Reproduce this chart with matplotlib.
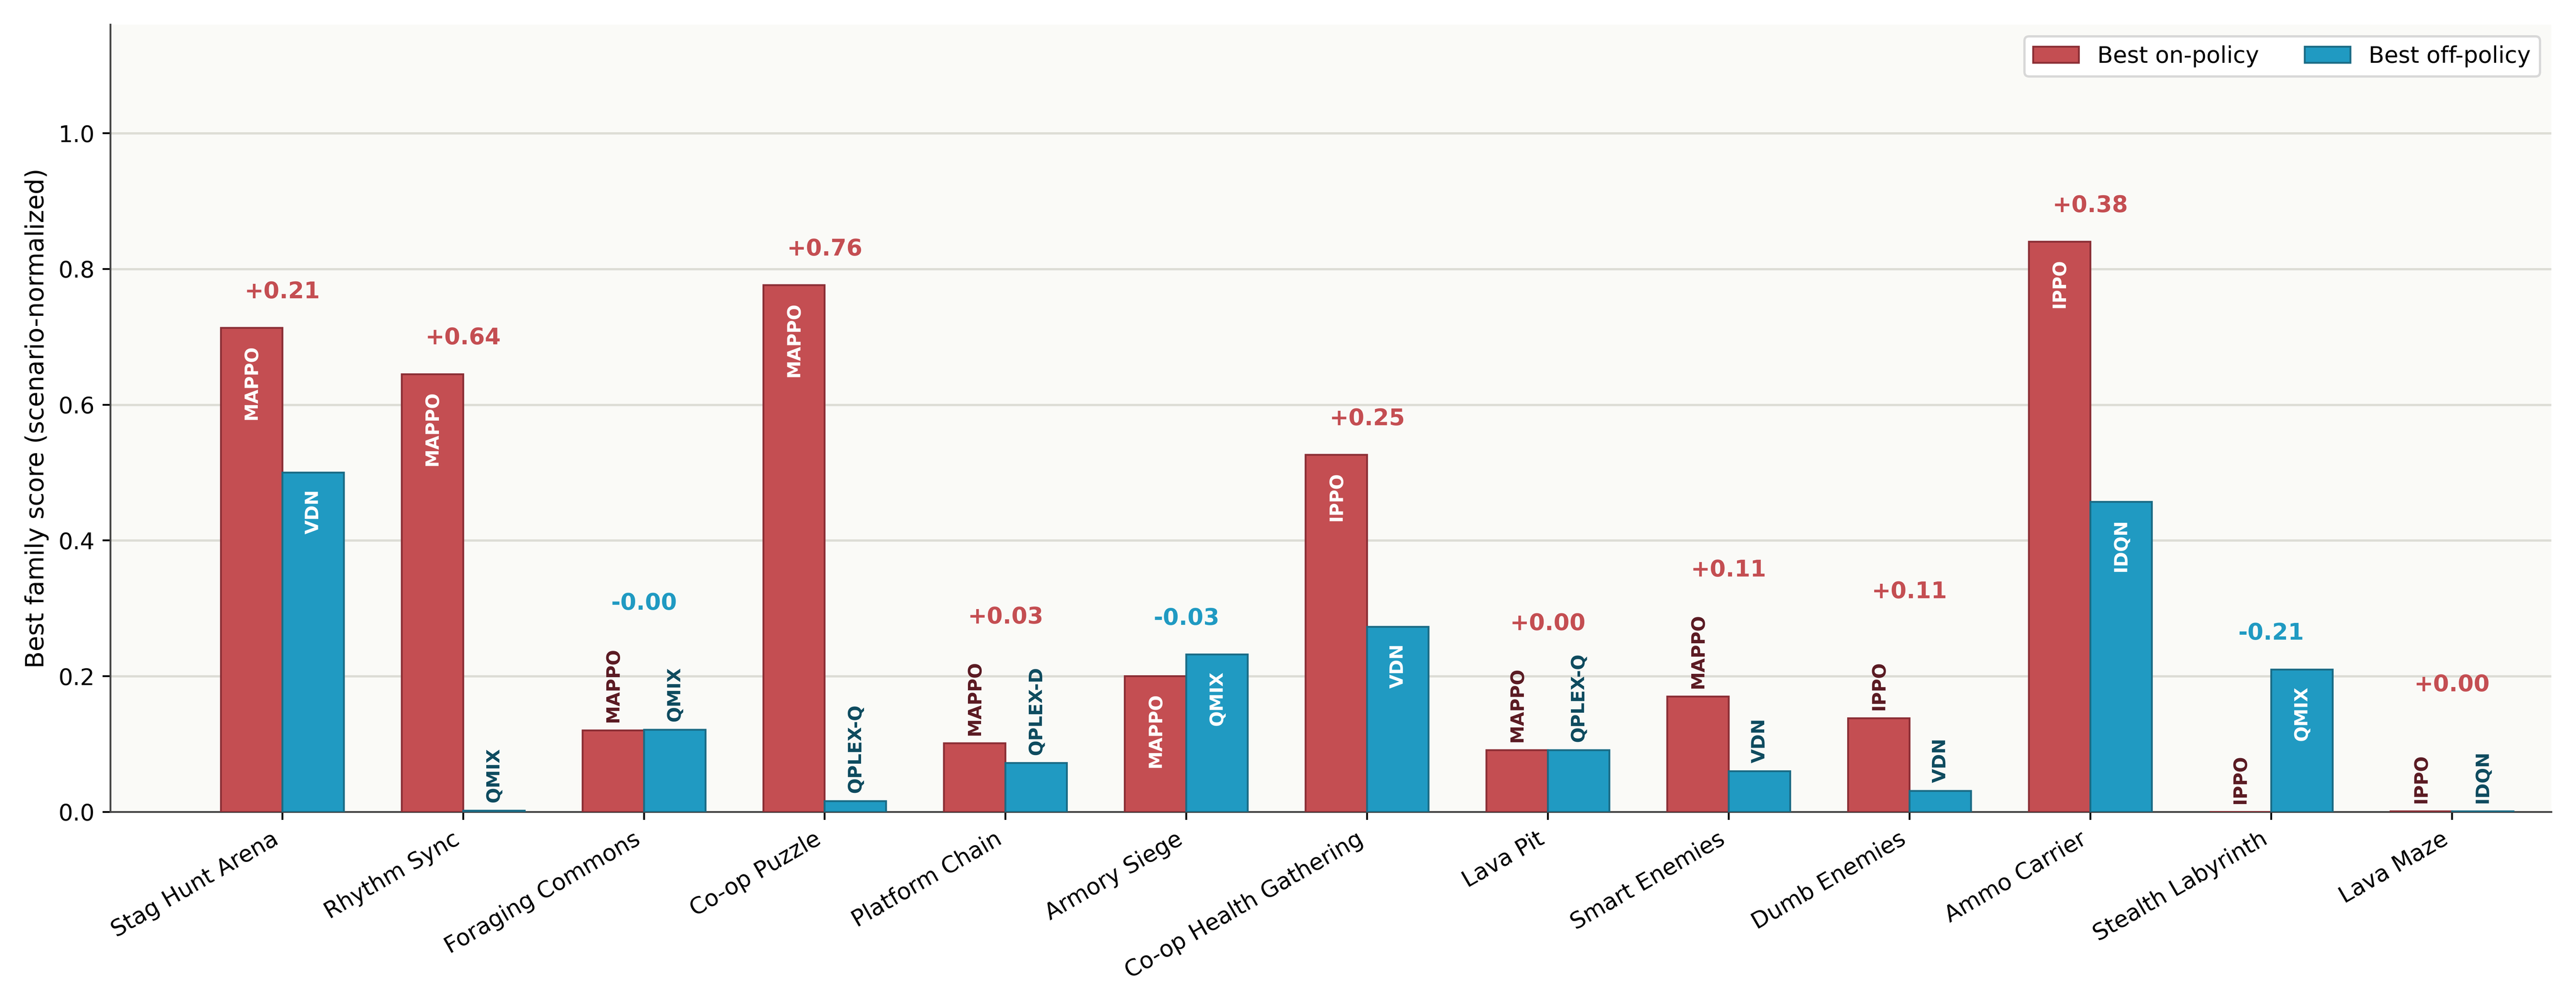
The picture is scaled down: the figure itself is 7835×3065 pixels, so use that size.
import matplotlib.pyplot as plt
import numpy as np

scenarios = ["Stag Hunt Arena", "Rhythm Sync", "Foraging Commons", "Co-op Puzzle",
             "Platform Chain", "Armory Siege", "Co-op Health Gathering", "Lava Pit",
             "Smart Enemies", "Dumb Enemies", "Ammo Carrier", "Stealth Labyrinth", "Lava Maze"]
on_scores = [0.713, 0.645, 0.120, 0.776, 0.101, 0.200, 0.526, 0.091, 0.170, 0.138, 0.840, 0.0, 0.001]
off_scores = [0.500, 0.002, 0.121, 0.016, 0.072, 0.232, 0.273, 0.091, 0.060, 0.031, 0.457, 0.210, 0.001]
on_algos = ["MAPPO", "MAPPO", "MAPPO", "MAPPO", "MAPPO", "MAPPO", "IPPO", "MAPPO",
            "MAPPO", "IPPO", "IPPO", "IPPO", "IPPO"]
off_algos = ["VDN", "QMIX", "QMIX", "QPLEX-Q", "QPLEX-D", "QMIX", "VDN", "QPLEX-Q",
             "VDN", "VDN", "IDQN", "QMIX", "IDQN"]

ON_C, ON_E, ON_DARK = "#c44e52", "#8b2e35", "#5a1a22"
OFF_C, OFF_E, OFF_DARK = "#209ac2", "#1a6b85", "#0d4a5e"
INSIDE_MIN = 0.18

fig, ax = plt.subplots(figsize=(15.67, 6.13))
ax.set_facecolor("#fafaf7")
x = np.arange(len(scenarios))
w = 0.34
ax.bar(x - w / 2, on_scores, w, color=ON_C, edgecolor=ON_E, linewidth=0.8,
       label="Best on-policy", zorder=3)
ax.bar(x + w / 2, off_scores, w, color=OFF_C, edgecolor=OFF_E, linewidth=0.8,
       label="Best off-policy", zorder=3)

for i in range(len(scenarios)):
    tops = []
    for xpos, val, name, dark in [(x[i] - w / 2, on_scores[i], on_algos[i], ON_DARK),
                                  (x[i] + w / 2, off_scores[i], off_algos[i], OFF_DARK)]:
        if val >= INSIDE_MIN:
            ax.text(xpos, val - 0.025, name, rotation=90, ha="center", va="top",
                    color="white", fontsize=8, fontweight="bold", zorder=4)
            tops.append(val + 0.037)
        else:
            ax.text(xpos, val + 0.012, name, rotation=90, ha="center", va="bottom",
                    color=dark, fontsize=8, fontweight="bold", zorder=4)
            tops.append(val + 0.17)
    diff = on_scores[i] - off_scores[i]
    ax.text(x[i], max(tops), f"{diff:+.2f}", ha="center", va="bottom",
            color=ON_C if diff >= 0 else OFF_C, fontsize=10, fontweight="bold")

ax.set_ylim(0, 1.16)
ax.set_xlim(-0.95, len(scenarios) - 0.45)
ax.set_yticks([0, 0.2, 0.4, 0.6, 0.8, 1.0])
ax.yaxis.grid(True, color="#ddddd6", linewidth=1, zorder=0)
ax.set_axisbelow(True)
ax.set_xticks(x)
ax.set_xticklabels(scenarios, rotation=30, ha="right", fontsize=10)
ax.tick_params(axis="y", labelsize=10)
ax.set_ylabel("Best family score (scenario-normalized)", fontsize=11)
for s in ["top", "right"]:
    ax.spines[s].set_visible(False)
for s in ["left", "bottom"]:
    ax.spines[s].set_color("#444444")
ax.legend(loc="upper right", ncol=2, fontsize=10, framealpha=1, edgecolor="#d8d8d8")

plt.tight_layout()
plt.savefig("out.png", dpi=500)
